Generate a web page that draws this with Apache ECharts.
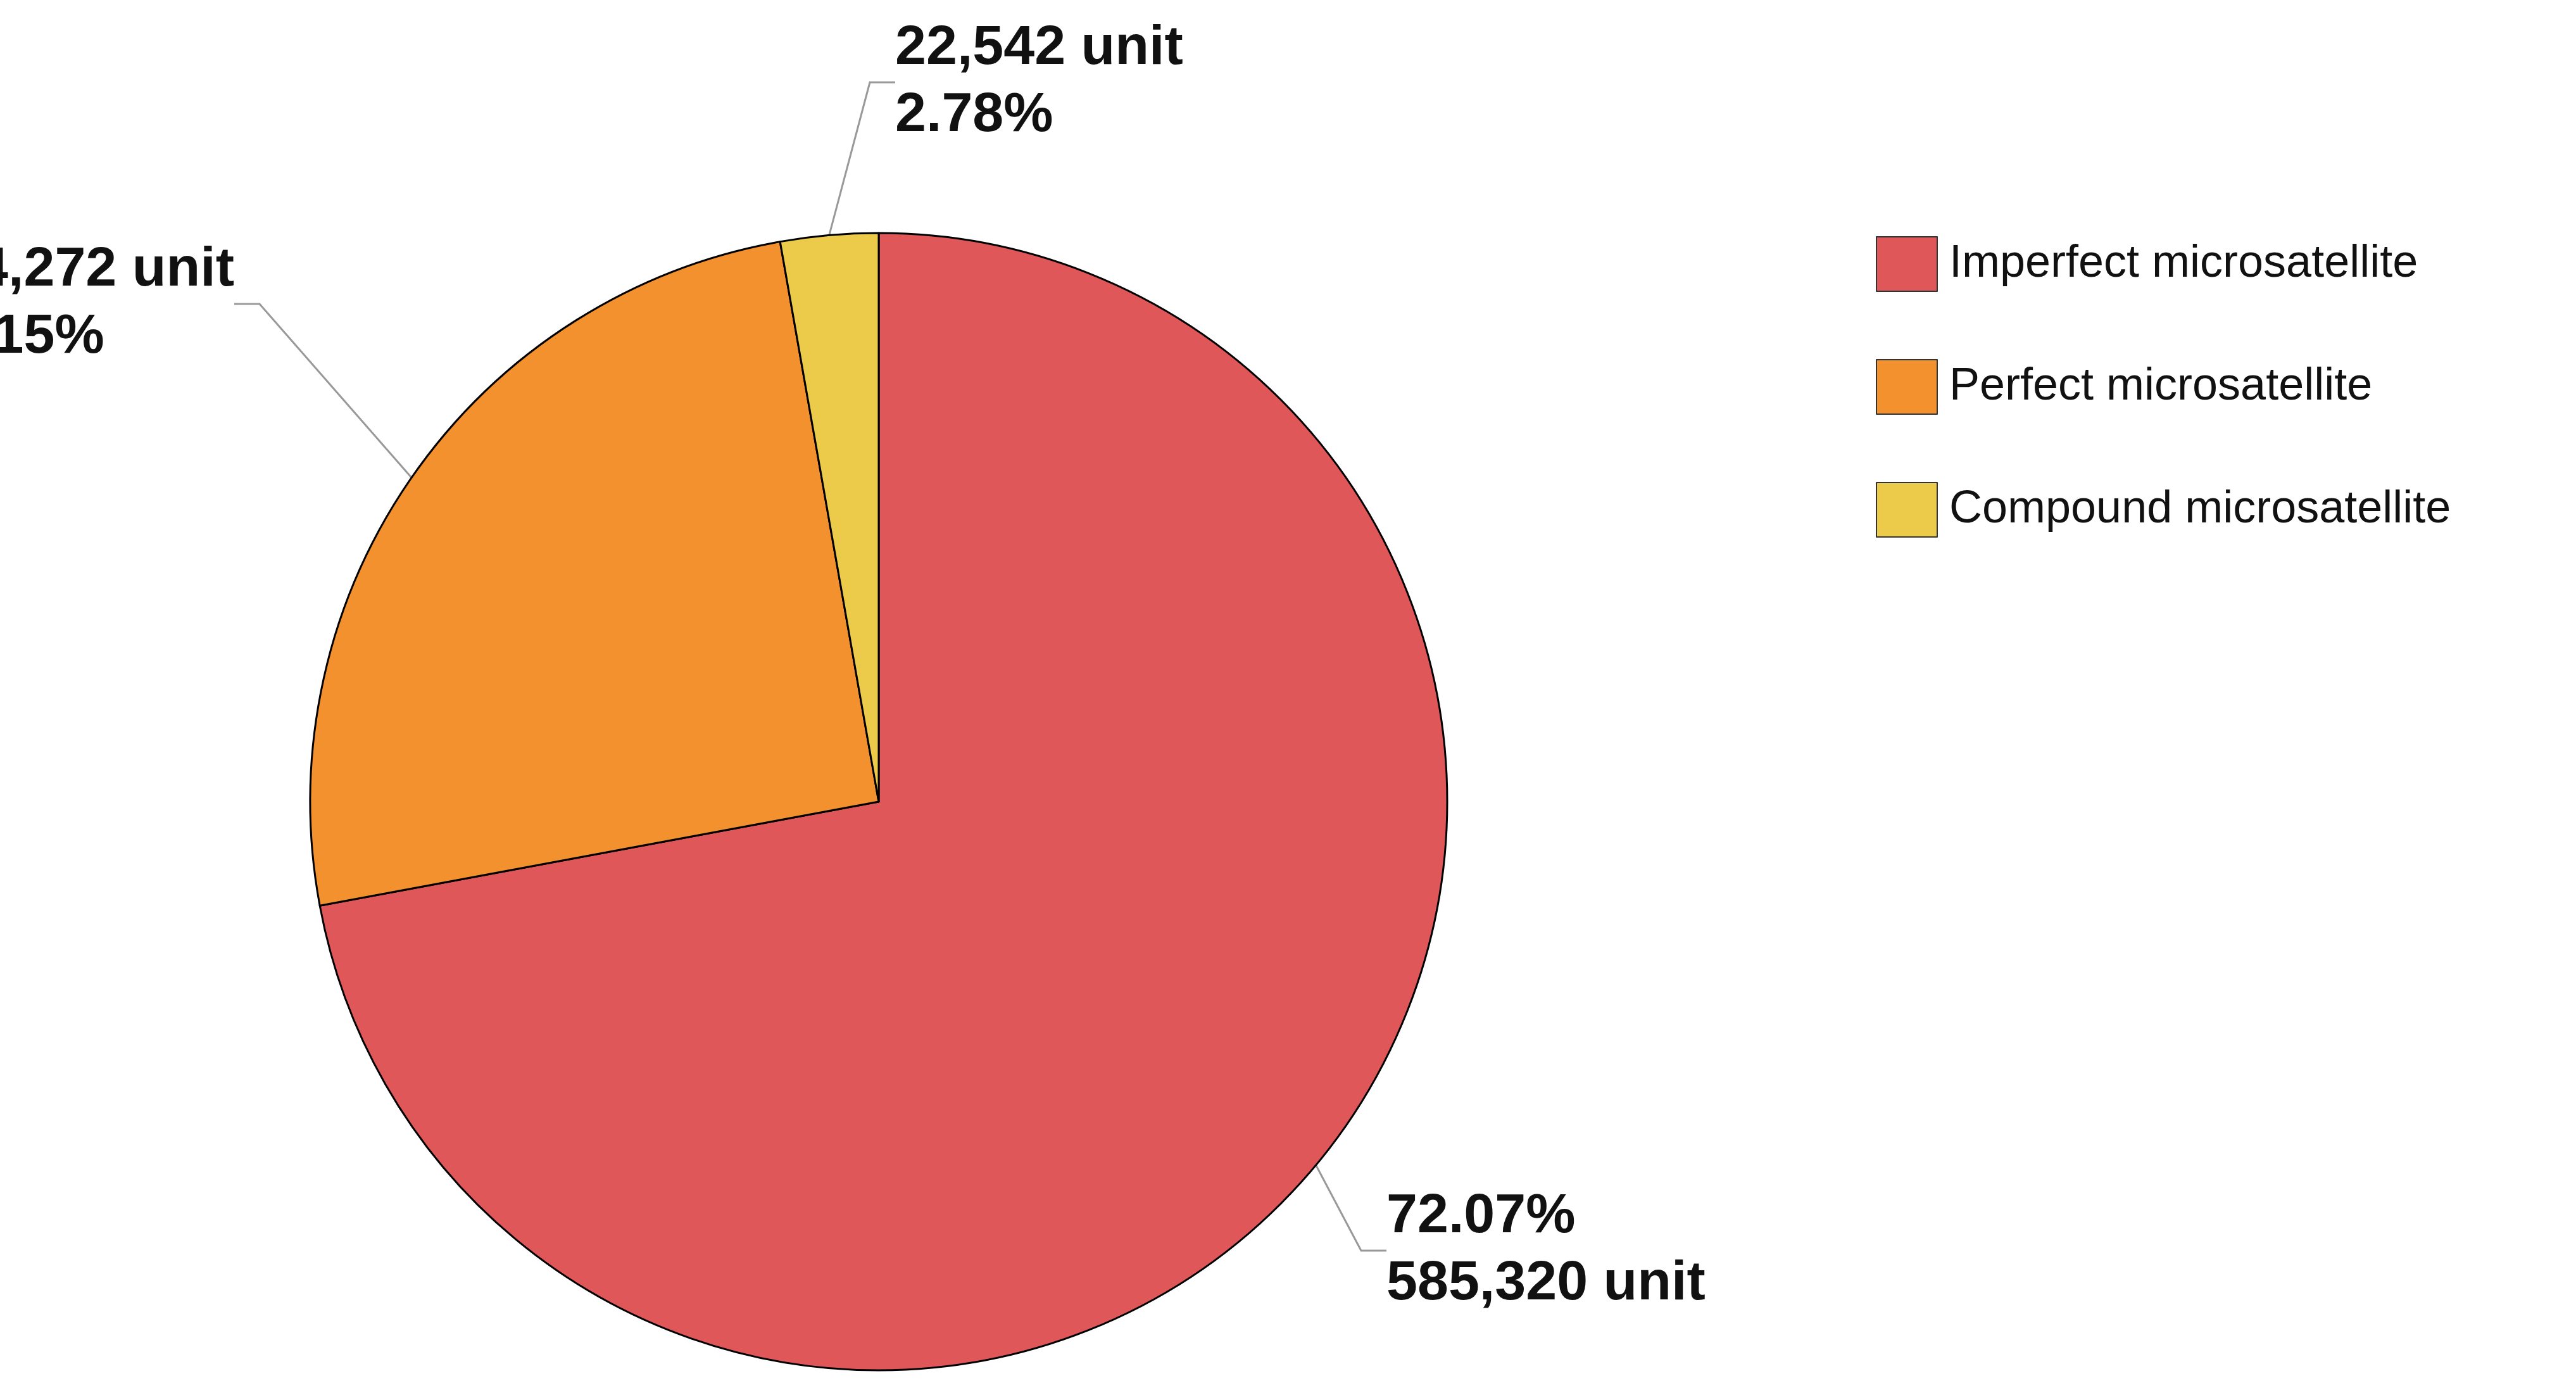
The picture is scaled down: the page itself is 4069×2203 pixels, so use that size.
<!DOCTYPE html>
<html>
<head>
<meta charset="utf-8">
<script src="https://cdn.jsdelivr.net/npm/echarts@6/dist/echarts.min.js"></script>
<style>html,body{margin:0;padding:0;background:#fff}#chart{width:4069px;height:2203px}</style>
</head>
<body>
<div id="chart"></div>
<script>
// Data
const names = ['Imperfect microsatellite', 'Perfect microsatellite', 'Compound microsatellite'];
const counts = [585320, 204272, 22542];
const percents = ['72.07%', '25.15%', '2.78%'];
const colors = ['#E0575A', '#F2912E', '#EDCB4A'];

// label anchor points (px) for each slice
const labelSpots = [
    { x: 2190, y: 1975, align: 'left' },
    { x: 370, y: 480, align: 'right' },
    { x: 1414, y: 130, align: 'left' }
];

const fmt = n => n.toLocaleString('en-US');

const chart = echarts.init(document.getElementById('chart'));

chart.setOption({
    animation: false,
    textStyle: { fontFamily: 'Liberation Sans, Arial, sans-serif' },
    legend: {
        orient: 'vertical',
        left: 2958,
        top: 368,
        icon: 'rect',
        itemWidth: 96,
        itemHeight: 86,
        itemGap: 106,
        data: names,
        itemStyle: { borderColor: '#333', borderWidth: 2 },
        textStyle: { fontSize: 72, color: '#111', fontFamily: 'Liberation Sans, Arial, sans-serif', padding: [0, 0, 0, 14] }
    },
    series: [{
        type: 'pie',
        center: [1388, 1266],
        radius: 898,
        startAngle: 90,
        clockwise: true,
        data: names.map((n, i) => ({
            name: n,
            value: counts[i],
            itemStyle: { color: colors[i] }
        })),
        itemStyle: { borderColor: '#000', borderWidth: 3 },
        label: {
            show: true,
            fontSize: 88,
            fontWeight: 'bold',
            color: '#111',
            lineHeight: 106,
            formatter: p => p.dataIndex === 0
                ? percents[0] + '\n' + fmt(counts[0]) + ' unit'
                : fmt(counts[p.dataIndex]) + ' unit\n' + percents[p.dataIndex]
        },
        labelLine: {
            show: true,
            length: 40,
            length2: 40,
            lineStyle: { color: '#999', width: 3 }
        },
        labelLayout: p => {
            const s = labelSpots[p.dataIndex];
            return {
                x: s.align === 'left' ? s.x : s.x - p.labelRect.width,
                y: s.y - p.labelRect.height / 2,
                align: 'left',
                verticalAlign: 'top'
            };
        }
    }]
});
</script>
</body>
</html>
